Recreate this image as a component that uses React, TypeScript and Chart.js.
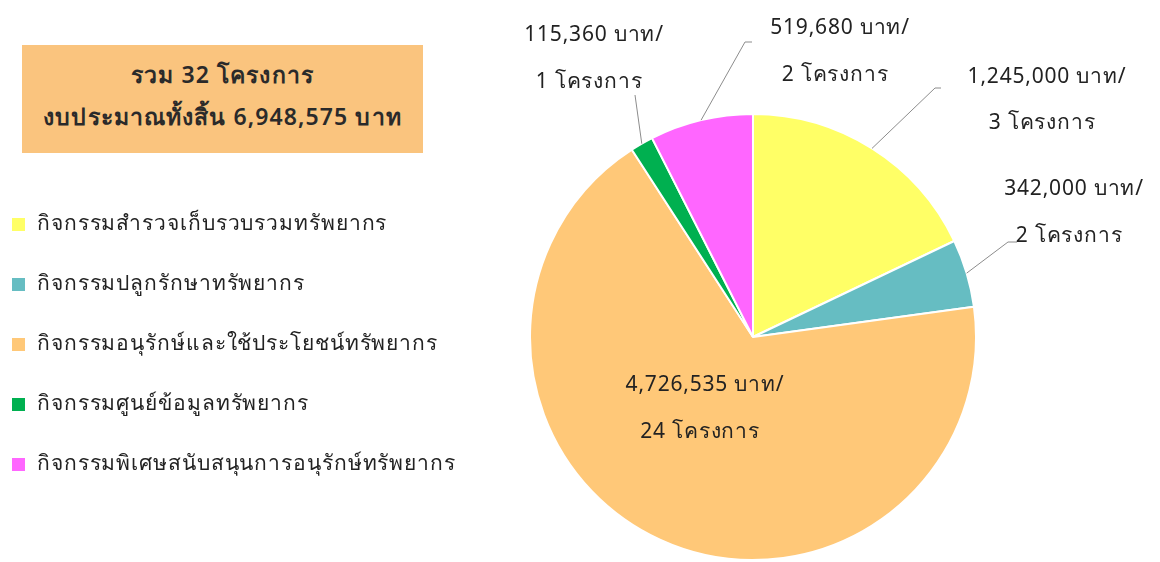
import React, { useEffect, useRef } from "react";
import { Chart, registerables } from "chart.js";

Chart.register(...registerables);

const categories = [
  "กิจกรรมสำรวจเก็บรวบรวมทรัพยากร",
  "กิจกรรมปลูกรักษาทรัพยากร",
  "กิจกรรมอนุรักษ์และใช้ประโยชน์ทรัพยากร",
  "กิจกรรมศูนย์ข้อมูลทรัพยากร",
  "กิจกรรมพิเศษสนับสนุนการอนุรักษ์ทรัพยากร",
];
const budgets = [1245000, 342000, 4726535, 115360, 519680];
const projectCounts = [3, 2, 24, 1, 2];
const colors = ["#FFFF66", "#66BDC2", "#FFC878", "#00B050", "#FF66FF"];
const totalProjects = 32;
const totalBudget = 6948575;

const FONT = "Tahoma, 'Noto Sans', 'DejaVu Sans', sans-serif";

// label placement (style only): text centre and leader line path
const labelLayout = [
  { x: 1047, y: 77, gap: 46, leader: [[935, 88], [941, 88]] },
  { x: 1074, y: 189, gap: 47, leader: [[1008, 242], [1017, 242]] },
  { x: 705, y: 385, gap: 47, leader: null },
  { x: 594, y: 35, gap: 47, leader: [[635, 95]] },
  { x: 840, y: 28, gap: 47, leader: [[745, 42], [752, 42]] },
];

const fmt = (n: number) => n.toLocaleString("en-US");

const labelPlugin = {
  id: "sliceLabels",
  afterDatasetsDraw(chart: any) {
    const ctx = chart.ctx;
    const meta = chart.getDatasetMeta(0);
    ctx.save();
    meta.data.forEach((arc: any, i: number) => {
      const p = arc.getProps(["x", "y", "startAngle", "endAngle", "outerRadius"], true);
      const mid = (p.startAngle + p.endAngle) / 2;
      const lay = labelLayout[i];
      if (lay.leader) {
        ctx.beginPath();
        ctx.strokeStyle = "#8c8c8c";
        ctx.lineWidth = 1;
        ctx.moveTo(p.x + Math.cos(mid) * p.outerRadius, p.y + Math.sin(mid) * p.outerRadius);
        lay.leader.forEach((pt: number[]) => ctx.lineTo(pt[0], pt[1]));
        ctx.stroke();
      }
      ctx.fillStyle = "#222";
      ctx.font = `21px ${FONT}`;
      try { (ctx as any).letterSpacing = "0.8px"; } catch (e) {}
      ctx.textAlign = "center";
      ctx.textBaseline = "middle";
      ctx.fillText(`${fmt(budgets[i])} บาท/`, lay.x, lay.y);
      ctx.fillText(`${projectCounts[i]} โครงการ`, lay.x - 5, lay.y + lay.gap);
    });
    ctx.restore();
  },
};

export default function App() {
  const ref = useRef<HTMLCanvasElement>(null);
  useEffect(() => {
    if (!ref.current) return;
    const chart = new Chart(ref.current, {
      type: "pie",
      data: {
        labels: categories,
        datasets: [
          {
            data: budgets,
            backgroundColor: colors,
            borderColor: "#ffffff",
            borderWidth: 2,
          },
        ],
      },
      options: {
        responsive: false,
        animation: false,
        layout: { padding: { left: 529, right: 183, top: 113, bottom: 1 } },
        plugins: { legend: { display: false }, tooltip: { enabled: false } },
      },
      plugins: [labelPlugin],
    });
    return () => chart.destroy();
  }, []);

  return (
    <div style={{ position: "fixed", left: 0, top: 0, width: 1160, height: 562, background: "#fff", fontFamily: FONT, color: "#222" }}>
      <canvas ref={ref} width={1160} height={562} style={{ position: "absolute", left: 0, top: 0 }} />
      <div
        style={{
          position: "absolute",
          left: 22,
          top: 45,
          width: 401,
          height: 108,
          background: "#FAC47E",
          textAlign: "center",
          fontSize: 23,
          fontWeight: 600,
          letterSpacing: "1.1px",
          lineHeight: "42px",
          paddingTop: 8,
          boxSizing: "border-box",
          color: "#2a2a2a",
          whiteSpace: "nowrap",
        }}
      >
        <div>รวม {totalProjects} โครงการ</div>
        <div>งบประมาณทั้งสิ้น {fmt(totalBudget)} บาท</div>
      </div>
      {categories.map((c, i) => (
        <div key={c} style={{ position: "absolute", left: 12, top: 222 + i * 60 - 15, height: 30, display: "flex", alignItems: "center", fontSize: 21, letterSpacing: "0.9px", whiteSpace: "nowrap" }}>
          <span style={{ display: "inline-block", width: 13, height: 13, background: colors[i], marginRight: 12, marginTop: 4 }} />
          <span>{c}</span>
        </div>
      ))}
    </div>
  );
}
